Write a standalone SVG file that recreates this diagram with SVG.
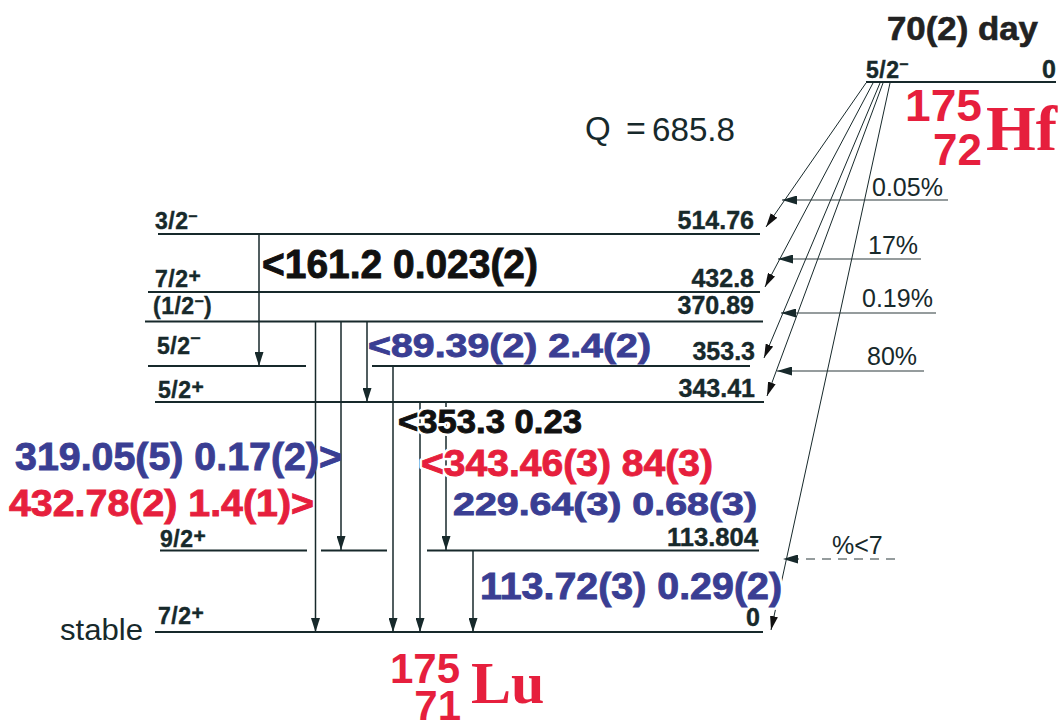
<svg xmlns="http://www.w3.org/2000/svg" width="1063" height="721" viewBox="0 0 1063 721">
<style>
.lvl{stroke:#17292b;stroke-width:1.8;fill:none}
.tr{stroke:#17292b;stroke-width:1.5;fill:none}
.dec{stroke:#17292b;stroke-width:1;fill:none}
.feed{stroke:#2c3b3c;stroke-width:1.2;fill:none}
.sp{font-family:"Liberation Sans",Arial,sans-serif;font-weight:bold;font-size:23px;fill:#17292b;stroke:#17292b;stroke-width:0.4;letter-spacing:0.5px}
.en{font-family:"Liberation Sans",Arial,sans-serif;font-weight:bold;font-size:25px;fill:#17292b;stroke:#17292b;stroke-width:0.4;text-anchor:end}
.pc{font-family:"Liberation Sans",Arial,sans-serif;font-size:25px;fill:#17292b}
.g{font-family:"Liberation Sans",Arial,sans-serif;font-weight:bold;stroke-width:0.9}
.blk{fill:#111;stroke:#111}
.blu{fill:#3a3e93;stroke:#3a3e93}
.red{fill:#e61f3d;stroke:#e61f3d}
.halo{fill:#fff;stroke:#fff;stroke-width:6;stroke-linejoin:round}
.nuc{font-family:"Liberation Sans",Arial,sans-serif;font-weight:bold;fill:#e61f3d}
.el{font-family:"Liberation Serif","Times New Roman",serif;font-weight:bold;fill:#e61f3d}
</style>
<defs>
<marker id="av" viewBox="0 0 14 9" refX="14" refY="4.5" markerWidth="14" markerHeight="9" markerUnits="userSpaceOnUse" orient="auto"><path d="M0,0 L14,4.5 L0,9 z" fill="#17292b"/></marker>
<marker id="ad" viewBox="0 0 14 8" refX="14" refY="4" markerWidth="14" markerHeight="8" markerUnits="userSpaceOnUse" orient="auto"><path d="M0,0 L14,4 L0,8 z" fill="#111"/></marker>
<marker id="af" viewBox="0 0 15 9" refX="15" refY="4.5" markerWidth="15" markerHeight="9" markerUnits="userSpaceOnUse" orient="auto"><path d="M0,0 L15,4.5 L0,9 z" fill="#17292b"/></marker>
</defs>
<rect width="1063" height="721" fill="#fff"/>

<g id="parent">
<line class="lvl" x1="866" y1="82" x2="1056" y2="82"/>
<text x="887" y="40" font-family="Liberation Sans,Arial,sans-serif" font-weight="bold" font-size="33" fill="#222" stroke="#222" stroke-width="0.6" textLength="151" lengthAdjust="spacingAndGlyphs">70(2) day</text>
<text class="sp" x="866" y="78">5/2<tspan font-size="16" dy="-9">–</tspan></text>
<text class="en" x="1056" y="78">0</text>
<text class="nuc" x="905" y="121" font-size="44" textLength="77" lengthAdjust="spacingAndGlyphs">175</text>
<text class="nuc" x="982" y="165" font-size="44" text-anchor="end">72</text>
<text class="el" x="986" y="150" font-size="64">Hf</text>
</g>

<g id="qvalue">
<text x="585" y="140" font-family="Liberation Sans,Arial,sans-serif" font-size="33" fill="#17292b">Q</text>
<text x="626" y="140" font-family="Liberation Sans,Arial,sans-serif" font-size="34" fill="#17292b">=</text>
<text x="652" y="141" font-family="Liberation Sans,Arial,sans-serif" font-size="34" fill="#17292b" textLength="83" lengthAdjust="spacingAndGlyphs">685.8</text>
</g>

<g id="lvl514">
<line class="lvl" x1="158" y1="234" x2="760" y2="234"/>
<text class="sp" x="155" y="229">3/2<tspan font-size="16" dy="-8">–</tspan></text>
<text class="en" x="754" y="229">514.76</text>
</g>
<g id="lvl432">
<line class="lvl" x1="148" y1="292" x2="760" y2="292"/>
<text class="sp" x="155" y="287">7/2<tspan font-size="21" dy="-4">+</tspan></text>
<text class="en" x="754" y="287">432.8</text>
</g>
<g id="lvl370">
<line class="lvl" x1="145" y1="321.5" x2="763" y2="321.5"/>
<text class="sp" x="153" y="314">(1/2<tspan font-size="16" dy="-8">–</tspan><tspan dy="8">)</tspan></text>
<text class="en" x="754" y="314">370.89</text>
</g>
<g id="lvl353">
<line class="lvl" x1="148" y1="366" x2="306" y2="366"/>
<line class="lvl" x1="372" y1="366" x2="750" y2="366"/>
<text class="sp" x="157" y="354">5/2<tspan font-size="18" dy="-11">–</tspan></text>
<text class="en" x="755" y="360">353.3</text>
</g>
<g id="lvl343">
<line class="lvl" x1="155" y1="402" x2="764" y2="402"/>
<text class="sp" x="158" y="398">5/2<tspan font-size="21" dy="-4">+</tspan></text>
<text class="en" x="755" y="397">343.41</text>
</g>
<g id="lvl113">
<line class="lvl" x1="160" y1="550.5" x2="307" y2="550.5"/>
<line class="lvl" x1="321" y1="550.5" x2="387" y2="550.5"/>
<line class="lvl" x1="427" y1="550.5" x2="759" y2="550.5"/>
<text class="sp" x="160" y="547">9/2<tspan font-size="21" dy="-4">+</tspan></text>
<text class="en" x="758" y="546" textLength="91" lengthAdjust="spacingAndGlyphs">113.804</text>
</g>
<g id="lvl0">
<line class="lvl" x1="155" y1="632" x2="763" y2="632"/>
<text class="sp" x="158" y="624">7/2<tspan font-size="21" dy="-4">+</tspan></text>
<text class="en" x="760" y="626">0</text>
<text x="60" y="640" font-family="Liberation Sans,Arial,sans-serif" font-size="30" fill="#17292b" textLength="83" lengthAdjust="spacingAndGlyphs">stable</text>
<text class="nuc" x="390" y="683" font-size="42">175</text>
<text class="nuc" x="461" y="720" font-size="42" text-anchor="end">71</text>
<text class="el" x="471" y="703" font-size="60">Lu</text>
</g>

<g id="connectors">
<line class="tr" x1="259" y1="234" x2="259" y2="366" marker-end="url(#av)"/>
<line class="tr" x1="315.5" y1="322" x2="315.5" y2="632" marker-end="url(#av)"/>
<line class="tr" x1="341" y1="322" x2="341" y2="550" marker-end="url(#av)"/>
<line class="tr" x1="367" y1="322" x2="367" y2="402" marker-end="url(#av)"/>
<line class="tr" x1="393" y1="366" x2="393" y2="632" marker-end="url(#av)"/>
<line class="tr" x1="420" y1="402" x2="420" y2="632" marker-end="url(#av)"/>
<line class="tr" x1="446" y1="402" x2="446" y2="550" marker-end="url(#av)"/>
<line class="tr" x1="473" y1="550" x2="473" y2="632" marker-end="url(#av)"/>

<line class="dec" x1="866" y1="83" x2="766" y2="227" marker-end="url(#ad)"/>
<line class="dec" x1="873" y1="83" x2="765" y2="287" marker-end="url(#ad)"/>
<line class="dec" x1="880" y1="83" x2="764" y2="358" marker-end="url(#ad)"/>
<line class="dec" x1="883" y1="83" x2="767" y2="396" marker-end="url(#ad)"/>
<line class="dec" x1="890" y1="83" x2="771" y2="630" marker-end="url(#ad)"/>

<line class="feed" x1="948" y1="200" x2="782" y2="200" marker-end="url(#af)"/>
<line class="feed" x1="921" y1="259" x2="778" y2="259" marker-end="url(#af)"/>
<line class="feed" x1="936" y1="313" x2="781" y2="313" marker-end="url(#af)"/>
<line class="feed" x1="924" y1="371" x2="777" y2="371" marker-end="url(#af)"/>
<line class="feed" x1="895" y1="559" x2="783" y2="559" stroke-dasharray="9 7" marker-end="url(#af)"/>
</g>

<g id="feed-labels">
<text class="pc" x="872" y="196">0.05%</text>
<text class="pc" x="868" y="254">17%</text>
<text class="pc" x="862" y="307">0.19%</text>
<text class="pc" x="867" y="365">80%</text>
<text class="pc" x="832" y="554" font-size="23">%&lt;7</text>
</g>

<g id="gamma-labels">
<text class="g blk" x="262" y="278" font-size="40" textLength="276" lengthAdjust="spacingAndGlyphs">&lt;161.2 0.023(2)</text>
<text class="g blu" x="368" y="357" font-size="34" textLength="283" lengthAdjust="spacingAndGlyphs">&lt;89.39(2) 2.4(2)</text>
<text class="g halo" x="398" y="433" font-size="34" textLength="184" lengthAdjust="spacingAndGlyphs">&lt;353.3 0.23</text>
<text class="g blk" x="398" y="433" font-size="34" textLength="184" lengthAdjust="spacingAndGlyphs">&lt;353.3 0.23</text>
<text class="g halo" x="421" y="476" font-size="37" textLength="292" lengthAdjust="spacingAndGlyphs">&lt;343.46(3) 84(3)</text>
<text class="g red" x="421" y="476" font-size="37" textLength="292" lengthAdjust="spacingAndGlyphs">&lt;343.46(3) 84(3)</text>
<text class="g blu" x="453" y="515" font-size="32" textLength="304" lengthAdjust="spacingAndGlyphs">229.64(3) 0.68(3)</text>
<text class="g halo" x="480" y="599" font-size="37" textLength="302" lengthAdjust="spacingAndGlyphs">113.72(3) 0.29(2)</text>
<text class="g blu" x="480" y="599" font-size="37" textLength="302" lengthAdjust="spacingAndGlyphs">113.72(3) 0.29(2)</text>
<text class="g blu" x="15" y="470" font-size="38" textLength="327" lengthAdjust="spacingAndGlyphs">319.05(5) 0.17(2)&gt;</text>
<text class="g red" x="9" y="516" font-size="37" textLength="305" lengthAdjust="spacingAndGlyphs">432.78(2) 1.4(1)&gt;</text>
</g>
</svg>
